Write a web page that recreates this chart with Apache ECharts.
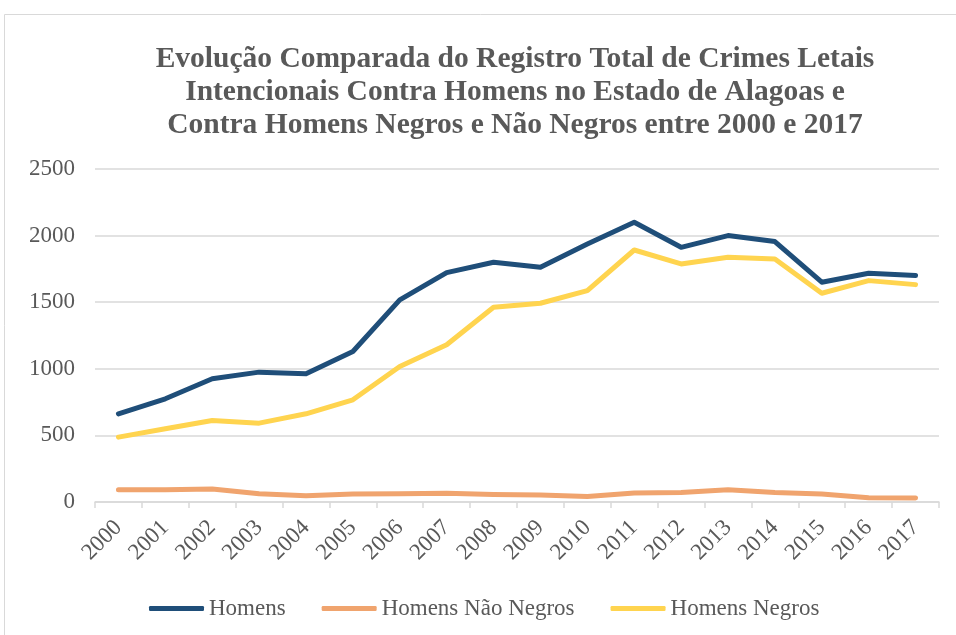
<!DOCTYPE html>
<html>
<head>
<meta charset="utf-8">
<script src="https://cdn.jsdelivr.net/npm/echarts@6/dist/echarts.min.js"></script>
<style>
  html, body { margin: 0; padding: 0; background: #fff; }
  #chart { width: 956px; height: 635px; }
</style>
</head>
<body>
<div id="chart"></div>
<script>
const years = ['2000', '2001', '2002', '2003', '2004', '2005', '2006', '2007', '2008',
  '2009', '2010', '2011', '2012', '2013', '2014', '2015', '2016', '2017']

const homens = [662, 775, 925, 975, 962, 1130, 1517, 1722, 1800,
  1762, 1937, 2100, 1912, 2000, 1955, 1650, 1717, 1700]
const homensNaoNegros = [92, 92, 97, 62, 47, 60, 62, 65, 57,
  52, 42, 67, 72, 92, 72, 60, 32, 30]
const homensNegros = [487, 550, 612, 592, 662, 767, 1017, 1180, 1462,
  1492, 1587, 1892, 1787, 1837, 1825, 1567, 1662, 1632]

const serif = 'Liberation Serif'
const grey = '#595959'
const lineGrey = '#D9D9D9'

const chart = echarts.init(document.getElementById('chart'))

const line = (name, data, color) => ({
  name,
  type: 'line',
  data,
  symbol: 'none',
  color,
  lineStyle: { width: 5, color, cap: 'round', join: 'round' }
})

chart.setOption({
  animation: false,
  textStyle: { fontFamily: serif, color: grey },
  graphic: [{
    type: 'rect',
    shape: { x: 4.5, y: 14.5, width: 1000, height: 700 },
    style: { fill: null, stroke: lineGrey, lineWidth: 1 },
    silent: true
  }],
  title: {
    text: 'Evolução Comparada do Registro Total de Crimes Letais\nIntencionais Contra Homens no Estado de Alagoas e\nContra Homens Negros e Não Negros entre 2000 e 2017',
    left: 510,
    top: 38,
    textAlign: 'center',
    textStyle: {
      fontFamily: serif,
      fontWeight: 'bold',
      fontSize: 29.5,
      lineHeight: 33,
      color: grey
    }
  },
  legend: {
    left: 144,
    top: 592,
    icon: 'roundRect',
    itemWidth: 55,
    itemHeight: 5,
    itemGap: 36,
    textStyle: { fontFamily: serif, fontSize: 23, color: grey },
    data: ['Homens', 'Homens Não Negros', 'Homens Negros']
  },
  grid: { left: 95, right: 17, top: 169, bottom: 133 },
  xAxis: {
    type: 'category',
    data: years,
    boundaryGap: true,
    axisLine: { lineStyle: { color: lineGrey, width: 1.5 } },
    axisTick: { show: true, length: 6, lineStyle: { color: lineGrey, width: 1.5 } },
    axisLabel: {
      rotate: 45,
      margin: 22,
      interval: 0,
      fontFamily: serif,
      fontSize: 23,
      color: grey
    }
  },
  yAxis: {
    type: 'value',
    min: 0,
    max: 2500,
    interval: 500,
    axisLine: { show: false },
    axisTick: { show: false },
    splitLine: { lineStyle: { color: lineGrey, width: 1.5 } },
    axisLabel: {
      margin: 20,
      fontFamily: serif,
      fontSize: 23,
      color: grey,
      formatter: v => String(v)
    }
  },
  series: [
    line('Homens', homens, '#1F4E79'),
    line('Homens Não Negros', homensNaoNegros, '#F0A46E'),
    line('Homens Negros', homensNegros, '#FFD44F')
  ]
})
</script>
</body>
</html>
